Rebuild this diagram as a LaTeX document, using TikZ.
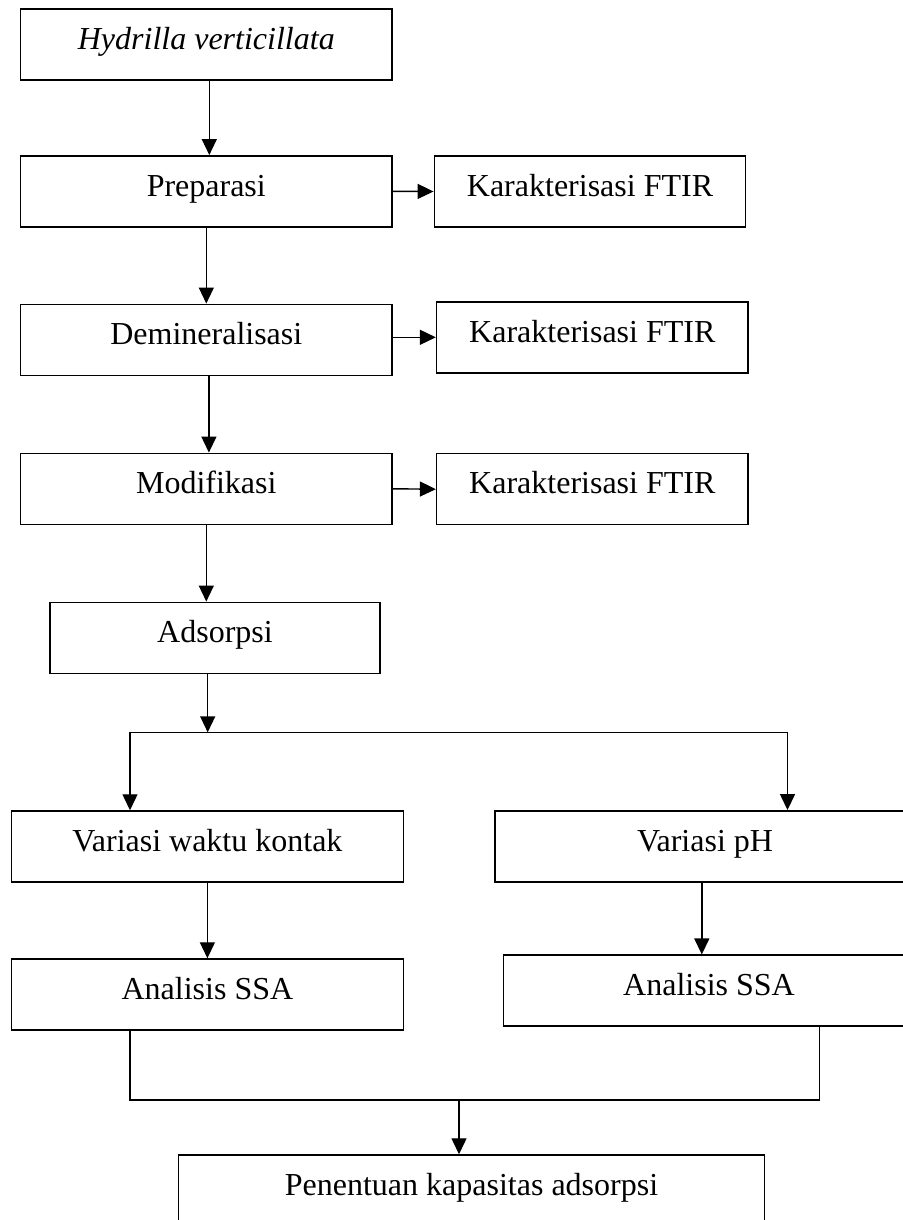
\documentclass[tikz,border=0pt]{standalone}
\usepackage{fontspec}
\setmainfont{Liberation Serif}
\usetikzlibrary{arrows.meta}

\tikzset{
  box/.style = {draw, line width=.75pt, inner sep=0pt, minimum height=35.5pt,
                text height=8pt, text depth=3.3pt, font=\fontsize{16}{18}\selectfont},
  arr/.style = {line width=.7pt, -{Triangle[length=8pt, width=7.5pt]}}
}

\begin{document}
\begin{tikzpicture}[x = .5pt, y = -.5pt]
        \clip (0,0) rectangle (903,1220);

        % left column
        \node[box, minimum width=185.6pt] (hyd)   at (206.3,44.5)  {\itshape Hydrilla verticillata};
        \node[box, minimum width=185.6pt] (prep)  at (206.3,191.3) {Preparasi};
        \node[box, minimum width=185.6pt] (demin) at (206.3,339.8) {Demineralisasi};
        \node[box, minimum width=185.6pt] (modif) at (206.3,488.8) {Modifikasi};
        \node[box, minimum width=165pt]   (ads)   at (215,637.8)   {Adsorpsi};

        % FTIR boxes
        \node[box, minimum width=155.7pt] (ftir1) at (590,191.5)   {Karakterisasi FTIR};
        \node[box, minimum width=155.7pt] (ftir2) at (592.3,337.3) {Karakterisasi FTIR};
        \node[box, minimum width=155.7pt] (ftir3) at (592.3,489.2) {Karakterisasi FTIR};

        % two branches
        \node[box, minimum width=195.9pt] (waktu) at (207.4,846.5) {Variasi waktu kontak};
        \node[box, minimum width=209.8pt] (ph)    at (705,846.3)   {Variasi pH};
        \node[box, minimum width=195.9pt] (ssaA)  at (207.4,994.5) {Analisis SSA};
        \node[box, minimum width=205.5pt] (ssaB)  at (709,990.7)   {Analisis SSA};
        \node[box, minimum width=292.9pt] (kap)   at (471.5,1190.5) {Penentuan kapasitas adsorpsi};

        \coordinate (split) at (207.7,732.3);
        \coordinate (brL) at (130,732.3);
        \coordinate (brR) at (787.5,732.3);
        \coordinate (jL) at (130,1100);
        \coordinate (jR) at (819.5,1100);
        \coordinate (join) at (459,1100);

        \draw[arr] ([xshift=1.5pt]hyd.south) -- ([xshift=1.5pt]prep.north);
        \draw[arr] (prep.east) -- (ftir1.west);
        \draw[arr] (prep.south) -- (demin.north);
        \draw[arr] (demin.east |- ftir2.west) -- (ftir2.west);
        \draw[arr] ([xshift=1.3pt]demin.south) -- ([xshift=1.3pt]modif.north);
        \draw[arr] (modif.east) -- (ftir3.west);
        \draw[arr] (modif.south) -- (modif.south |- ads.north);
        \draw[arr] (split |- ads.south) -- (split);

        \draw[line width=.7pt] (brL) -- (brR);
        \draw[arr] (brL) -- (brL |- waktu.north);
        \draw[arr] (brR) -- (brR |- ph.north);
        \draw[arr] (waktu.south) -- (ssaA.north);
        \draw[arr] ([xshift=-1.6pt]ph.south) -- ([xshift=-1.6pt]ph.south |- ssaB.north);

        \draw[line width=.7pt] (jL |- ssaA.south) -- (jL) -- (jR) -- (jR |- ssaB.south);
        \draw[arr] (join) -- (join |- kap.north);
\end{tikzpicture}
\end{document}
